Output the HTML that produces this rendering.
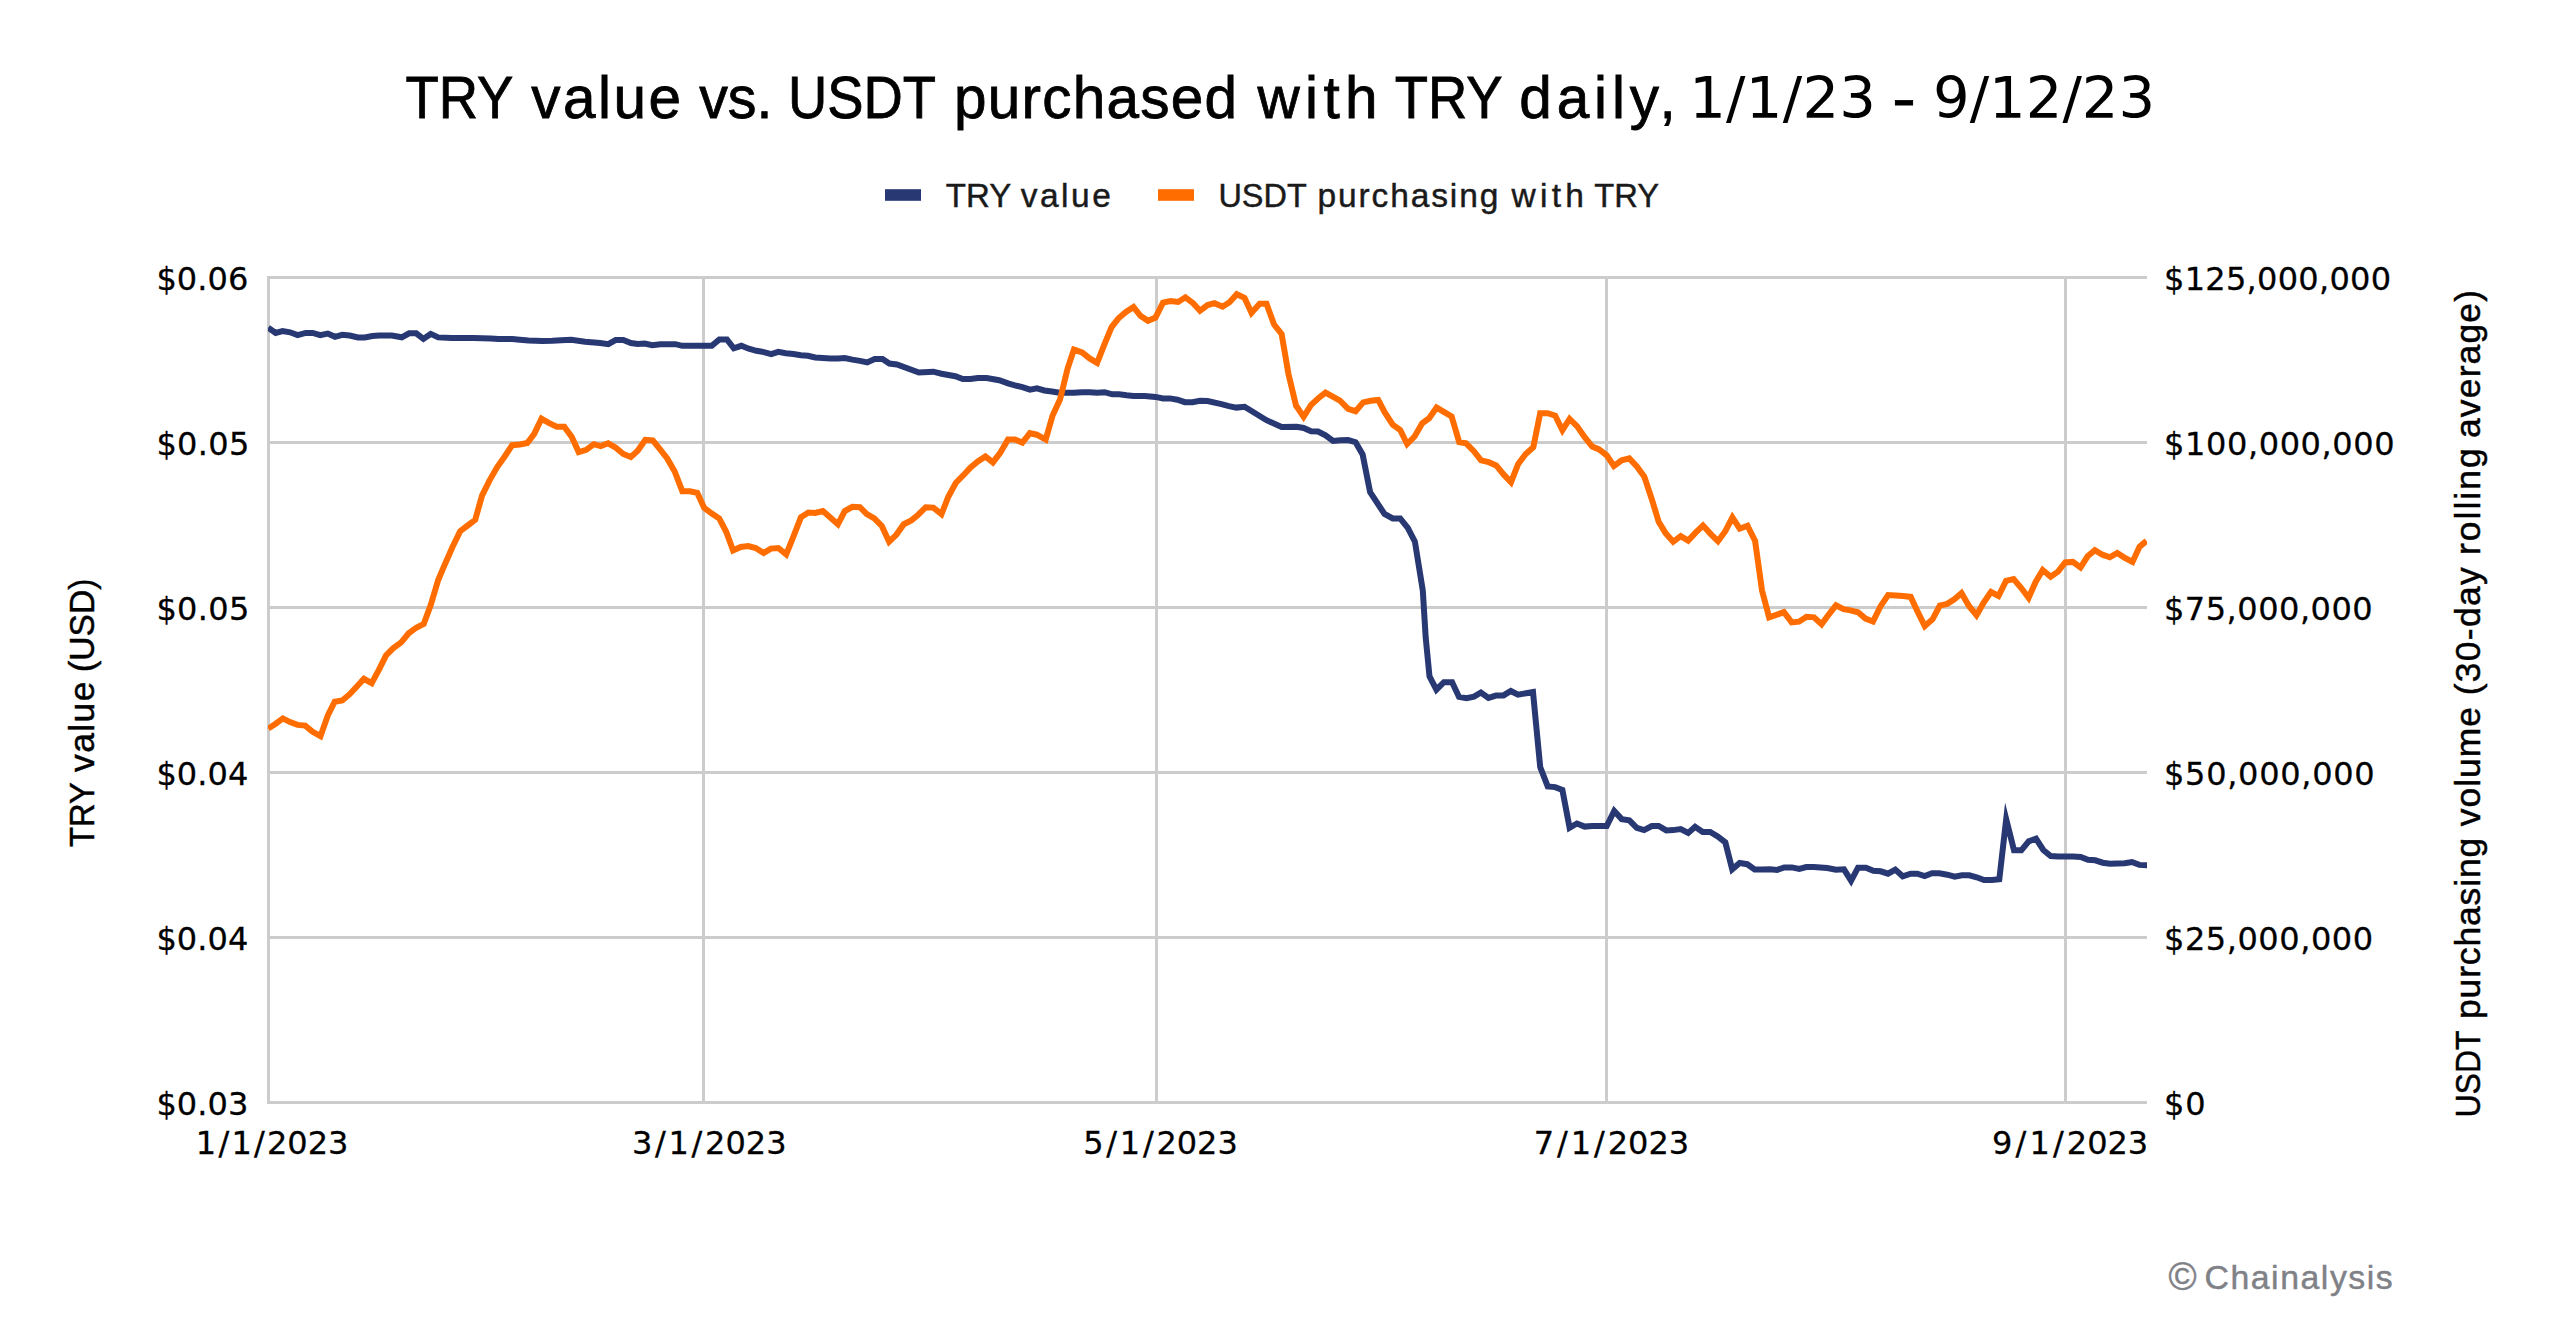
<!DOCTYPE html>
<html lang="en"><head><meta charset="utf-8"><title>TRY value vs. USDT purchased with TRY daily</title>
<style>
html,body{margin:0;padding:0;background:#fff;}
body{width:2550px;height:1344px;overflow:hidden;}
svg{display:block;}
text{white-space:pre;}
.L{font-family:"Liberation Sans",Arial,sans-serif;}
.D{font-family:"DejaVu Sans","Liberation Sans",sans-serif;}
</style></head><body>
<svg width="2550" height="1344" viewBox="0 0 2550 1344">
<rect width="2550" height="1344" fill="#ffffff"/>

<g stroke="#cccccc" stroke-width="3" fill="none">
<line x1="267.0" y1="277.5" x2="2147.0" y2="277.5"/>
<line x1="267.0" y1="442.5" x2="2147.0" y2="442.5"/>
<line x1="267.0" y1="607.5" x2="2147.0" y2="607.5"/>
<line x1="267.0" y1="772.5" x2="2147.0" y2="772.5"/>
<line x1="267.0" y1="937.5" x2="2147.0" y2="937.5"/>
<line x1="267.0" y1="1102.5" x2="2147.0" y2="1102.5"/>
<line x1="268.5" y1="276.0" x2="268.5" y2="1104.0"/>
<line x1="703.5" y1="276.0" x2="703.5" y2="1104.0"/>
<line x1="1156.5" y1="276.0" x2="1156.5" y2="1104.0"/>
<line x1="1606.5" y1="276.0" x2="1606.5" y2="1104.0"/>
<line x1="2065.5" y1="276.0" x2="2065.5" y2="1104.0"/>
</g>
<defs><clipPath id="plotclip"><rect x="268" y="270" width="1879.0" height="840"/></clipPath></defs>
<g clip-path="url(#plotclip)" fill="none" stroke-linejoin="miter" stroke-miterlimit="10" stroke-width="6.0">
<path d="M268.2 327.7 L275.7 332.9 L282.6 331.0 L290.1 332.3 L297.6 335.1 L305.8 332.9 L312.7 332.9 L320.2 335.1 L327.8 333.6 L335.0 336.8 L342.2 334.8 L349.7 335.5 L357.9 337.4 L364.8 337.4 L372.3 336.0 L379.2 335.5 L391.8 335.5 L401.8 337.3 L409.1 333.3 L416.2 333.3 L423.4 338.9 L430.7 333.9 L438.2 337.4 L452.0 338.1 L473.3 338.0 L490.9 338.5 L498.4 338.9 L512.2 339.0 L519.8 339.7 L528.5 340.5 L542.4 340.9 L552.4 340.8 L561.2 340.2 L571.2 339.8 L585.1 341.7 L600.1 343.0 L608.3 344.2 L615.8 339.9 L623.3 339.9 L630.9 343.0 L637.8 343.9 L644.7 343.5 L652.2 345.2 L660.4 344.2 L675.4 344.2 L682.3 345.8 L703.6 345.8 L711.8 345.8 L719.3 339.5 L726.9 339.5 L733.8 348.3 L741.3 345.8 L748.8 348.7 L756.4 350.8 L763.9 352.1 L771.2 354.2 L778.3 351.8 L785.8 353.3 L793.4 354.0 L800.9 355.2 L807.8 355.8 L815.3 357.5 L822.9 358.1 L830.4 358.6 L837.9 358.4 L844.8 358.0 L852.4 359.6 L859.9 360.9 L867.2 362.4 L874.7 359.0 L882.5 359.0 L889.4 363.5 L896.9 364.5 L918.9 372.5 L933.3 371.7 L941.5 373.7 L955.3 376.2 L962.8 379.0 L970.4 379.0 L977.9 378.1 L986.7 378.0 L999.2 380.2 L1008.0 383.4 L1014.9 385.3 L1022.4 387.1 L1030.0 389.6 L1036.9 388.4 L1044.4 390.5 L1051.9 391.5 L1059.5 392.8 L1067.0 392.8 L1073.9 392.8 L1082.0 392.2 L1089.6 392.2 L1097.1 392.8 L1104.6 392.2 L1112.2 394.3 L1119.1 394.3 L1126.6 395.3 L1133.5 395.9 L1144.8 395.9 L1155.5 396.9 L1163.0 398.4 L1169.9 398.4 L1177.4 399.7 L1184.9 402.2 L1192.5 402.2 L1200.0 400.7 L1207.6 401.0 L1221.4 404.1 L1228.9 406.1 L1236.4 407.6 L1244.6 406.8 L1266.5 420.2 L1281.6 427.1 L1296.7 426.7 L1303.6 428.0 L1311.1 431.2 L1318.0 431.5 L1325.5 435.3 L1333.1 440.9 L1340.6 440.3 L1348.1 440.0 L1355.6 442.2 L1362.6 454.4 L1370.1 492.1 L1384.5 514.0 L1392.7 518.4 L1400.2 518.4 L1407.8 527.8 L1414.9 541.6 L1422.8 590.6 L1425.7 637.6 L1429.5 676.5 L1436.4 689.7 L1443.9 682.2 L1452.1 682.2 L1459.0 696.9 L1466.5 698.1 L1474.0 696.6 L1480.9 692.5 L1488.5 697.9 L1496.0 695.6 L1503.5 695.4 L1510.8 691.0 L1518.0 694.7 L1533.0 692.0 L1536.2 725.5 L1540.2 767.0 L1547.7 786.4 L1555.2 787.1 L1562.4 789.9 L1569.6 827.8 L1576.9 823.5 L1584.7 826.6 L1592.2 826.0 L1606.7 826.0 L1614.2 810.9 L1621.7 819.1 L1629.3 820.3 L1636.8 827.8 L1644.1 830.1 L1651.8 826.0 L1658.7 826.0 L1666.3 830.4 L1673.2 830.1 L1680.7 829.1 L1688.2 832.9 L1695.1 826.8 L1702.7 831.9 L1710.2 831.9 L1717.7 836.4 L1725.3 842.3 L1732.2 869.3 L1739.7 863.0 L1747.2 864.2 L1754.7 869.5 L1762.3 869.5 L1769.8 869.3 L1777.3 869.9 L1784.2 867.4 L1791.8 867.4 L1799.3 869.0 L1806.2 867.1 L1813.7 867.0 L1827.3 868.0 L1836.0 869.7 L1844.0 869.3 L1851.1 880.7 L1858.0 867.7 L1866.0 867.7 L1873.3 870.7 L1880.7 871.3 L1888.0 873.7 L1895.3 869.6 L1902.7 876.3 L1910.7 873.7 L1917.3 873.7 L1924.7 876.0 L1932.0 873.3 L1939.3 873.3 L1947.3 874.7 L1954.7 876.7 L1962.0 875.3 L1969.3 875.3 L1976.7 877.3 L1984.0 880.0 L1992.0 880.0 L1999.3 879.3 L2006.2 819.2 L2014.0 850.3 L2021.3 850.3 L2028.7 841.3 L2036.0 838.7 L2043.3 850.0 L2050.7 856.0 L2058.0 856.4 L2072.7 856.4 L2080.7 856.9 L2088.0 859.7 L2095.3 860.3 L2102.7 862.7 L2110.0 863.7 L2124.7 863.3 L2132.0 862.0 L2139.3 864.9 L2147.7 865.4" stroke="#283873"/>
<path d="M268.2 728.6 L275.7 723.7 L282.8 718.4 L290.1 722.1 L297.6 724.9 L305.2 725.6 L312.7 731.8 L320.5 736.2 L327.8 715.5 L334.7 701.7 L342.2 700.5 L349.7 694.2 L356.6 686.7 L363.9 678.8 L371.7 683.2 L378.6 670.4 L386.1 655.3 L393.0 648.4 L401.2 642.4 L408.7 633.3 L416.2 627.7 L423.8 623.9 L430.7 605.1 L438.2 580.0 L443.2 568.2 L452.6 546.8 L460.2 531.1 L467.7 525.5 L475.2 519.8 L482.1 495.4 L489.6 480.3 L497.2 467.1 L504.7 456.5 L512.2 445.2 L519.8 444.5 L527.3 443.0 L534.2 433.9 L541.5 418.8 L549.3 423.2 L556.8 426.7 L564.3 426.7 L571.8 437.0 L578.7 452.1 L586.3 449.8 L593.8 444.2 L600.7 446.1 L608.2 443.3 L615.8 447.7 L623.3 454.0 L630.8 457.1 L637.7 450.8 L645.3 439.8 L652.8 440.4 L659.7 448.9 L667.2 458.4 L674.7 471.5 L682.3 491.2 L689.8 491.2 L697.3 492.9 L704.2 507.9 L711.8 513.6 L719.3 518.6 L726.2 531.8 L733.1 550.5 L740.7 547.0 L748.2 546.1 L755.7 548.0 L763.6 553.0 L770.8 548.6 L778.3 548.0 L786.2 554.3 L793.4 536.7 L800.9 517.3 L808.4 512.5 L815.3 512.9 L822.9 511.0 L837.9 524.2 L844.8 511.0 L852.4 506.8 L859.9 507.2 L866.8 514.1 L874.3 518.5 L881.8 526.0 L889.1 541.7 L896.3 534.8 L903.8 524.2 L911.3 520.4 L918.2 514.7 L925.8 507.2 L933.3 507.6 L941.5 514.1 L948.4 496.5 L955.9 482.7 L963.4 475.2 L970.3 467.7 L977.8 461.4 L985.4 456.4 L992.9 462.4 L1000.4 452.6 L1008.0 439.5 L1014.9 439.5 L1022.4 442.6 L1029.9 433.2 L1036.8 434.7 L1045.7 439.6 L1052.6 415.5 L1060.1 399.2 L1067.6 368.5 L1073.9 349.6 L1082.1 352.5 L1089.6 358.4 L1097.1 362.8 L1104.0 345.3 L1111.6 327.1 L1118.5 318.3 L1126.0 312.0 L1133.5 307.0 L1140.4 315.8 L1148.0 320.8 L1155.5 317.6 L1163.0 302.6 L1170.5 301.1 L1178.1 302.0 L1185.4 297.3 L1193.1 303.2 L1200.0 310.7 L1207.6 305.1 L1214.5 303.2 L1222.6 306.7 L1229.5 302.3 L1236.8 294.2 L1244.6 297.9 L1251.5 312.9 L1259.6 303.8 L1266.5 303.8 L1274.1 324.5 L1281.6 334.0 L1288.5 374.1 L1296.0 405.5 L1303.6 416.8 L1311.1 404.9 L1318.6 398.0 L1325.5 392.6 L1340.0 400.7 L1348.1 408.9 L1355.6 411.2 L1363.2 402.4 L1370.7 400.7 L1378.2 399.9 L1384.5 412.0 L1392.7 424.6 L1400.2 430.0 L1407.1 444.0 L1414.6 436.5 L1422.2 423.3 L1429.1 418.3 L1436.6 407.6 L1451.6 416.4 L1459.2 442.2 L1466.1 443.4 L1473.6 450.9 L1481.1 460.4 L1488.7 462.2 L1496.2 465.4 L1503.8 474.7 L1511.0 482.2 L1518.2 464.0 L1525.7 454.0 L1533.3 447.1 L1540.2 413.2 L1547.7 413.2 L1555.2 415.7 L1562.4 430.2 L1569.6 418.9 L1577.2 426.4 L1584.7 437.1 L1592.2 446.5 L1599.1 449.4 L1606.7 455.3 L1613.9 465.9 L1621.7 460.3 L1629.3 458.4 L1636.8 466.5 L1644.3 476.6 L1651.8 499.2 L1658.7 521.8 L1665.6 533.1 L1673.2 541.8 L1680.7 536.2 L1688.2 540.6 L1695.8 532.4 L1703.0 525.5 L1710.8 534.1 L1718.0 541.2 L1725.3 531.2 L1732.4 517.4 L1739.7 528.7 L1747.5 525.7 L1755.1 540.8 L1762.0 590.4 L1769.1 617.3 L1776.4 614.8 L1783.9 612.1 L1791.7 622.4 L1799.0 621.7 L1806.5 616.7 L1814.0 617.3 L1821.6 624.2 L1828.5 614.8 L1836.0 605.4 L1843.5 609.2 L1850.4 610.4 L1858.0 612.3 L1865.5 618.6 L1873.0 621.5 L1880.3 606.7 L1888.1 595.1 L1895.6 595.4 L1903.1 596.0 L1910.7 596.9 L1917.6 611.7 L1924.8 626.1 L1932.6 619.2 L1939.8 605.7 L1947.1 603.9 L1954.0 599.5 L1961.5 593.2 L1969.0 606.0 L1976.5 615.2 L1983.5 602.9 L1991.0 592.0 L1998.5 596.0 L2006.0 580.9 L2013.6 579.1 L2021.1 587.8 L2028.6 597.9 L2035.5 582.2 L2042.7 570.0 L2050.7 576.7 L2058.0 571.6 L2065.2 562.4 L2072.8 561.9 L2080.5 567.5 L2087.6 556.3 L2094.9 550.2 L2102.4 554.7 L2109.8 557.3 L2117.2 553.0 L2124.8 557.8 L2132.5 561.9 L2139.6 546.6 L2146.5 540.9" stroke="#ff6d00"/>
</g>
<rect x="885" y="189.2" width="36" height="11.6" fill="#283873"/>
<rect x="1158" y="189.2" width="36" height="11.6" fill="#ff6d00"/>
<text class="L" font-size="58.5" fill="#000" stroke="#000" stroke-width="0.79" transform="translate(405.4 117.8) scale(0.9316 1)">TRY</text>
<text class="L" font-size="58.5" fill="#000" stroke="#000" stroke-width="0.79" letter-spacing="2.48" x="531.3" y="117.8">value</text>
<text class="L" font-size="58.5" fill="#000" stroke="#000" stroke-width="0.79" transform="translate(699.2 117.8) scale(0.9800 1)">vs.</text>
<text class="L" font-size="58.5" fill="#000" stroke="#000" stroke-width="0.79" transform="translate(787.9 117.8) scale(0.9292 1)">USDT</text>
<text class="L" font-size="58.5" fill="#000" stroke="#000" stroke-width="0.79" letter-spacing="1.23" x="954.1" y="117.8">purchased</text>
<text class="L" font-size="58.5" fill="#000" stroke="#000" stroke-width="0.79" letter-spacing="5.37" x="1257.5" y="117.8">with</text>
<text class="L" font-size="58.5" fill="#000" stroke="#000" stroke-width="0.79" transform="translate(1394.7 117.8) scale(0.9307 1)">TRY</text>
<text class="L" font-size="58.5" fill="#000" stroke="#000" stroke-width="0.79" letter-spacing="4.84" x="1519.3" y="117.8">daily,</text>
<text class="D" font-size="57.6" fill="#000" stroke="#000" stroke-width="0.00" letter-spacing="0.28" x="1689.2" y="117.8">1/1/23</text>
<text class="L" font-size="58.5" fill="#000" stroke="#000" stroke-width="0.79" transform="translate(1892.3 117.8) scale(1.2067 1)">-</text>
<text class="D" font-size="57.6" fill="#000" stroke="#000" stroke-width="0.00" letter-spacing="0.02" x="1933.0" y="117.8">9/12/23</text>
<text class="L" font-size="33.5" fill="#1a1a1a" stroke="#1a1a1a" stroke-width="0.45" transform="translate(945.8 206.9) scale(0.9862 1)">TRY</text>
<text class="L" font-size="33.5" fill="#1a1a1a" stroke="#1a1a1a" stroke-width="0.45" letter-spacing="2.52" x="1020.7" y="206.9">value</text>
<text class="L" font-size="33.5" fill="#1a1a1a" stroke="#1a1a1a" stroke-width="0.45" transform="translate(1218.4 206.9) scale(0.9685 1)">USDT</text>
<text class="L" font-size="33.5" fill="#1a1a1a" stroke="#1a1a1a" stroke-width="0.45" letter-spacing="1.88" x="1317.5" y="206.9">purchasing</text>
<text class="L" font-size="33.5" fill="#1a1a1a" stroke="#1a1a1a" stroke-width="0.45" letter-spacing="4.23" x="1511.6" y="206.9">with</text>
<text class="L" font-size="33.5" fill="#1a1a1a" stroke="#1a1a1a" stroke-width="0.45" transform="translate(1594.3 206.9) scale(0.9769 1)">TRY</text>
<text class="L" font-size="35.4" fill="#000" stroke="#000" stroke-width="0.48" transform="translate(94.0 847.0) rotate(-90) scale(0.9232 1)">TRY</text>
<text class="L" font-size="35.4" fill="#000" stroke="#000" stroke-width="0.48" letter-spacing="1.43" transform="translate(94.0 772.0) rotate(-90)">value</text>
<text class="L" font-size="35.4" fill="#000" stroke="#000" stroke-width="0.48" transform="translate(94.0 671.9) rotate(-90) scale(0.9500 1)">(USD)</text>
<text class="L" font-size="35.4" fill="#000" stroke="#000" stroke-width="0.48" transform="translate(2480.0 1117.6) rotate(-90) scale(0.9053 1)">USDT</text>
<text class="L" font-size="35.4" fill="#000" stroke="#000" stroke-width="0.48" letter-spacing="0.89" transform="translate(2480.0 1019.0) rotate(-90)">purchasing</text>
<text class="L" font-size="35.4" fill="#000" stroke="#000" stroke-width="0.48" letter-spacing="1.04" transform="translate(2480.0 826.3) rotate(-90)">volume</text>
<text class="L" font-size="35.4" fill="#000" stroke="#000" stroke-width="0.48" letter-spacing="1.33" transform="translate(2480.0 695.3) rotate(-90)">(30-day</text>
<text class="L" font-size="35.4" fill="#000" stroke="#000" stroke-width="0.48" letter-spacing="2.03" transform="translate(2480.0 555.0) rotate(-90)">rolling</text>
<text class="L" font-size="35.4" fill="#000" stroke="#000" stroke-width="0.48" letter-spacing="1.19" transform="translate(2480.0 438.0) rotate(-90)">average)</text>
<text class="L" font-size="38.0" fill="#808187" stroke="#808187" stroke-width="0.51" transform="translate(2168.4 1289.6) scale(1.0036 1)">©</text>
<text class="L" font-size="33.8" fill="#808187" stroke="#808187" stroke-width="0.46" letter-spacing="1.54" x="2204.5" y="1288.7">Chainalysis</text>
<text class="D" font-size="32.0" fill="#000" stroke="#000" stroke-width="0.29" letter-spacing="0.07" x="156.4" y="290.3">$0.06</text>
<text class="D" font-size="32.0" fill="#000" stroke="#000" stroke-width="0.29" letter-spacing="0.33" x="156.4" y="455.3">$0.05</text>
<text class="D" font-size="32.0" fill="#000" stroke="#000" stroke-width="0.29" letter-spacing="0.33" x="156.4" y="620.3">$0.05</text>
<text class="D" font-size="32.0" fill="#000" stroke="#000" stroke-width="0.29" letter-spacing="0.07" x="156.4" y="785.3">$0.04</text>
<text class="D" font-size="32.0" fill="#000" stroke="#000" stroke-width="0.29" letter-spacing="0.07" x="156.4" y="950.3">$0.04</text>
<text class="D" font-size="32.0" fill="#000" stroke="#000" stroke-width="0.29" letter-spacing="0.07" x="156.4" y="1115.3">$0.03</text>
<text class="D" font-size="32.0" fill="#000" stroke="#000" stroke-width="0.29" letter-spacing="0.29" x="2164.0" y="290.3">$125,000,000</text>
<text class="D" font-size="32.0" fill="#000" stroke="#000" stroke-width="0.29" letter-spacing="0.61" x="2164.0" y="455.3">$100,000,000</text>
<text class="D" font-size="32.0" fill="#000" stroke="#000" stroke-width="0.29" letter-spacing="0.51" x="2164.0" y="620.3">$75,000,000</text>
<text class="D" font-size="32.0" fill="#000" stroke="#000" stroke-width="0.29" letter-spacing="0.71" x="2164.0" y="785.3">$50,000,000</text>
<text class="D" font-size="32.0" fill="#000" stroke="#000" stroke-width="0.29" letter-spacing="0.55" x="2164.0" y="950.3">$25,000,000</text>
<text class="D" font-size="32.0" fill="#000" stroke="#000" stroke-width="0.29" letter-spacing="0.80" x="2164.0" y="1115.3">$0</text>
<text class="D" font-size="32.0" fill="#000" stroke="#000" stroke-width="0.29" dx="0 2.22 2.22 2.22 2.22 0 0 0" x="195.8" y="1153.7">1/1/2023</text>
<text class="D" font-size="32.0" fill="#000" stroke="#000" stroke-width="0.29" dx="0 2.72 2.72 2.72 2.72 0 0 0" x="631.9" y="1153.7">3/1/2023</text>
<text class="D" font-size="32.0" fill="#000" stroke="#000" stroke-width="0.29" dx="0 2.70 2.70 2.70 2.70 0 0 0" x="1083.3" y="1153.7">5/1/2023</text>
<text class="D" font-size="32.0" fill="#000" stroke="#000" stroke-width="0.29" dx="0 2.90 2.90 2.90 2.90 0 0 0" x="1533.8" y="1153.7">7/1/2023</text>
<text class="D" font-size="32.0" fill="#000" stroke="#000" stroke-width="0.29" dx="0 3.10 3.10 3.10 3.10 0 0 0" x="1992.1" y="1153.7">9/1/2023</text>
</svg></body></html>
